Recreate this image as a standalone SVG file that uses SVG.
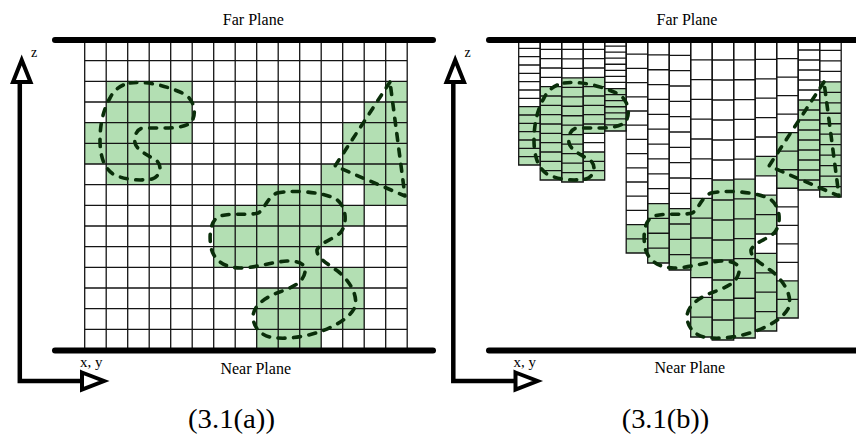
<svg xmlns="http://www.w3.org/2000/svg" xmlns:xlink="http://www.w3.org/1999/xlink" width="856" height="436" viewBox="0 0 856 436">
<style>
.cell{fill:#b3dfb3;stroke:none}
.grid{fill:none;stroke:#141414;stroke-width:1.3}
.blob{fill:none;stroke:#0a2e0a;stroke-width:3.6;stroke-dasharray:7 8.5;stroke-linecap:round;stroke-linejoin:round}
.plane{stroke:#000;stroke-width:6;stroke-linecap:round}
.axis{fill:none;stroke:#000;stroke-width:4.5;stroke-linejoin:miter}
.head{fill:#fff;stroke:#000;stroke-width:4;stroke-linejoin:miter}
.lbl{font-family:"Liberation Serif","Times New Roman",serif;font-size:16px;fill:#000}
.cap{font-family:"Liberation Serif","Times New Roman",serif;font-size:27px;fill:#000}
</style>
<defs>
<g id="blobs" class="blob">
<path d="M130,83 C145,81 165,85 182,93 C194,98 197,112 192,121 C188,127 175,128 163,128 L143,128 C136,129 134,137 135,143 C137,151 150,156 157,161 C162,166 161,176 152,179 C140,181 124,180 113,174 C104,168 100,156 100,140 C100,123 104,108 110,98 C114,90 120,85 130,83 Z"/>
<path d="M390,82 L335,166 L405,196 Z"/>
<path d="M277,193 C290,190 320,191 336,199 C346,206 348,222 341,232 C335,239 320,242 317,250 C316,258 330,265 340,273 C350,282 358,295 355,307 C350,318 335,326 322,331 C305,337 285,340 270,337 C258,334 253,325 253,316 C254,305 265,298 277,293 C290,288 303,284 305,272 C306,263 298,261 287,261 C272,262 255,268 240,268 C225,268 213,260 211,247 C209,236 210,222 218,217 C228,212 248,216 258,213 C265,210 266,198 277,193 Z"/>
</g>
</defs>
<rect width="856" height="436" fill="#fff"/>

<g id="panel-a">
<g id="a-cells">
<rect class="cell" x="106.2" y="81.33" width="86" height="20.67"/>
<rect class="cell" x="385.7" y="81.33" width="21.5" height="20.67"/>
<rect class="cell" x="106.2" y="102" width="86" height="20.67"/>
<rect class="cell" x="364.2" y="102" width="43" height="20.67"/>
<rect class="cell" x="84.7" y="122.67" width="107.5" height="20.67"/>
<rect class="cell" x="342.7" y="122.67" width="64.5" height="20.67"/>
<rect class="cell" x="84.7" y="143.33" width="86" height="20.67"/>
<rect class="cell" x="342.7" y="143.33" width="64.5" height="20.67"/>
<rect class="cell" x="106.2" y="164" width="64.5" height="20.67"/>
<rect class="cell" x="321.2" y="164" width="86" height="20.67"/>
<rect class="cell" x="256.7" y="184.67" width="86" height="20.67"/>
<rect class="cell" x="364.2" y="184.67" width="43" height="20.67"/>
<rect class="cell" x="213.7" y="205.33" width="150.5" height="20.67"/>
<rect class="cell" x="213.7" y="226" width="129" height="20.67"/>
<rect class="cell" x="213.7" y="246.67" width="107.5" height="20.67"/>
<rect class="cell" x="299.7" y="267.33" width="64.5" height="20.67"/>
<rect class="cell" x="256.7" y="288" width="107.5" height="20.67"/>
<rect class="cell" x="256.7" y="308.67" width="107.5" height="20.67"/>
<rect class="cell" x="256.7" y="329.33" width="64.5" height="20.67"/>
</g>
<path id="a-grid" class="grid" d="M84.7 40V350M106.2 40V350M127.7 40V350M149.2 40V350M170.7 40V350M192.2 40V350M213.7 40V350M235.2 40V350M256.7 40V350M278.2 40V350M299.7 40V350M321.2 40V350M342.7 40V350M364.2 40V350M385.7 40V350M407.2 40V350M84.7 60.67h322.5M84.7 81.33h322.5M84.7 102h322.5M84.7 122.67h322.5M84.7 143.33h322.5M84.7 164h322.5M84.7 184.67h322.5M84.7 205.33h322.5M84.7 226h322.5M84.7 246.67h322.5M84.7 267.33h322.5M84.7 288h322.5M84.7 308.67h322.5M84.7 329.33h322.5"/>
<use xlink:href="#blobs" href="#blobs"/>
<line class="plane" x1="55" y1="40" x2="433" y2="40"/>
<line class="plane" x1="55" y1="350.5" x2="433" y2="350.5"/>
<g id="a-axes">
<path class="axis" d="M19.8 82V381H82"/>
<path class="head" d="M21.7 60L13 82H30.5Z"/>
<path class="head" d="M82 372.5L104 381L82 389.5Z"/>
</g>
<text class="lbl" x="253.3" y="25" text-anchor="middle">Far Plane</text>
<text class="lbl" x="255.7" y="374" text-anchor="middle">Near Plane</text>
<text class="lbl" x="31" y="57" style="font-size:14px">z</text>
<text class="lbl" x="80" y="367" style="font-size:15px">x, y</text>
<text class="cap" x="188" y="428" textLength="87" lengthAdjust="spacingAndGlyphs">(3.1(a))</text>
</g>

<g id="panel-b">
<g id="b-cells">
<rect class="cell" x="518.7" y="106.67" width="21.5" height="58.33"/>
<rect class="cell" x="540.2" y="86.67" width="21.5" height="93.33"/>
<rect class="cell" x="561.7" y="77.87" width="21.5" height="104.13"/>
<rect class="cell" x="583.2" y="77.33" width="21.5" height="56"/>
<rect class="cell" x="583.2" y="152" width="21.5" height="28"/>
<rect class="cell" x="604.7" y="88.53" width="21.5" height="42.47"/>
<rect class="cell" x="626.2" y="224.6" width="21.5" height="28.4"/>
<rect class="cell" x="647.7" y="203.53" width="21.5" height="59.47"/>
<rect class="cell" x="669.2" y="208.67" width="21.5" height="61.33"/>
<rect class="cell" x="690.7" y="198.4" width="21.5" height="79.2"/>
<rect class="cell" x="690.7" y="297.4" width="21.5" height="39.6"/>
<rect class="cell" x="712.2" y="180" width="21.5" height="160"/>
<rect class="cell" x="733.7" y="179.07" width="21.5" height="158.93"/>
<rect class="cell" x="755.2" y="156.4" width="21.5" height="19.4"/>
<rect class="cell" x="755.2" y="195.2" width="21.5" height="38.8"/>
<rect class="cell" x="755.2" y="253.4" width="21.5" height="77.6"/>
<rect class="cell" x="776.7" y="132.67" width="21.5" height="55.6"/>
<rect class="cell" x="776.7" y="280.93" width="21.5" height="37.07"/>
<rect class="cell" x="798.2" y="100" width="21.5" height="90"/>
<rect class="cell" x="819.7" y="81.87" width="21.5" height="115.13"/>
</g>
<g id="b-grid" class="grid">
<path d="M518.7 40V165H540.2V40M518.7 48.33h21.5M518.7 56.67h21.5M518.7 65h21.5M518.7 73.33h21.5M518.7 81.67h21.5M518.7 90h21.5M518.7 98.33h21.5M518.7 106.67h21.5M518.7 115h21.5M518.7 123.33h21.5M518.7 131.67h21.5M518.7 140h21.5M518.7 148.33h21.5M518.7 156.67h21.5"/>
<path d="M540.2 40V180H561.7V40M540.2 49.33h21.5M540.2 58.67h21.5M540.2 68h21.5M540.2 77.33h21.5M540.2 86.67h21.5M540.2 96h21.5M540.2 105.33h21.5M540.2 114.67h21.5M540.2 124h21.5M540.2 133.33h21.5M540.2 142.67h21.5M540.2 152h21.5M540.2 161.33h21.5M540.2 170.67h21.5"/>
<path d="M561.7 40V182H583.2V40M561.7 49.47h21.5M561.7 58.93h21.5M561.7 68.4h21.5M561.7 77.87h21.5M561.7 87.33h21.5M561.7 96.8h21.5M561.7 106.27h21.5M561.7 115.73h21.5M561.7 125.2h21.5M561.7 134.67h21.5M561.7 144.13h21.5M561.7 153.6h21.5M561.7 163.07h21.5M561.7 172.53h21.5"/>
<path d="M583.2 40V180H604.7V40M583.2 49.33h21.5M583.2 58.67h21.5M583.2 68h21.5M583.2 77.33h21.5M583.2 86.67h21.5M583.2 96h21.5M583.2 105.33h21.5M583.2 114.67h21.5M583.2 124h21.5M583.2 133.33h21.5M583.2 142.67h21.5M583.2 152h21.5M583.2 161.33h21.5M583.2 170.67h21.5"/>
<path d="M604.7 40V131H626.2V40M604.7 46.07h21.5M604.7 52.13h21.5M604.7 58.2h21.5M604.7 64.27h21.5M604.7 70.33h21.5M604.7 76.4h21.5M604.7 82.47h21.5M604.7 88.53h21.5M604.7 94.6h21.5M604.7 100.67h21.5M604.7 106.73h21.5M604.7 112.8h21.5M604.7 118.87h21.5M604.7 124.93h21.5"/>
<path d="M626.2 40V253H647.7V40M626.2 54.2h21.5M626.2 68.4h21.5M626.2 82.6h21.5M626.2 96.8h21.5M626.2 111h21.5M626.2 125.2h21.5M626.2 139.4h21.5M626.2 153.6h21.5M626.2 167.8h21.5M626.2 182h21.5M626.2 196.2h21.5M626.2 210.4h21.5M626.2 224.6h21.5M626.2 238.8h21.5"/>
<path d="M647.7 40V263H669.2V40M647.7 54.87h21.5M647.7 69.73h21.5M647.7 84.6h21.5M647.7 99.47h21.5M647.7 114.33h21.5M647.7 129.2h21.5M647.7 144.07h21.5M647.7 158.93h21.5M647.7 173.8h21.5M647.7 188.67h21.5M647.7 203.53h21.5M647.7 218.4h21.5M647.7 233.27h21.5M647.7 248.13h21.5"/>
<path d="M669.2 40V270H690.7V40M669.2 55.33h21.5M669.2 70.67h21.5M669.2 86h21.5M669.2 101.33h21.5M669.2 116.67h21.5M669.2 132h21.5M669.2 147.33h21.5M669.2 162.67h21.5M669.2 178h21.5M669.2 193.33h21.5M669.2 208.67h21.5M669.2 224h21.5M669.2 239.33h21.5M669.2 254.67h21.5"/>
<path d="M690.7 40V337H712.2V40M690.7 59.8h21.5M690.7 79.6h21.5M690.7 99.4h21.5M690.7 119.2h21.5M690.7 139h21.5M690.7 158.8h21.5M690.7 178.6h21.5M690.7 198.4h21.5M690.7 218.2h21.5M690.7 238h21.5M690.7 257.8h21.5M690.7 277.6h21.5M690.7 297.4h21.5M690.7 317.2h21.5"/>
<path d="M712.2 40V340H733.7V40M712.2 60h21.5M712.2 80h21.5M712.2 100h21.5M712.2 120h21.5M712.2 140h21.5M712.2 160h21.5M712.2 180h21.5M712.2 200h21.5M712.2 220h21.5M712.2 240h21.5M712.2 260h21.5M712.2 280h21.5M712.2 300h21.5M712.2 320h21.5"/>
<path d="M733.7 40V338H755.2V40M733.7 59.87h21.5M733.7 79.73h21.5M733.7 99.6h21.5M733.7 119.47h21.5M733.7 139.33h21.5M733.7 159.2h21.5M733.7 179.07h21.5M733.7 198.93h21.5M733.7 218.8h21.5M733.7 238.67h21.5M733.7 258.53h21.5M733.7 278.4h21.5M733.7 298.27h21.5M733.7 318.13h21.5"/>
<path d="M755.2 40V331H776.7V40M755.2 59.4h21.5M755.2 78.8h21.5M755.2 98.2h21.5M755.2 117.6h21.5M755.2 137h21.5M755.2 156.4h21.5M755.2 175.8h21.5M755.2 195.2h21.5M755.2 214.6h21.5M755.2 234h21.5M755.2 253.4h21.5M755.2 272.8h21.5M755.2 292.2h21.5M755.2 311.6h21.5"/>
<path d="M776.7 40V318H798.2V40M776.7 58.53h21.5M776.7 77.07h21.5M776.7 95.6h21.5M776.7 114.13h21.5M776.7 132.67h21.5M776.7 151.2h21.5M776.7 169.73h21.5M776.7 188.27h21.5M776.7 206.8h21.5M776.7 225.33h21.5M776.7 243.87h21.5M776.7 262.4h21.5M776.7 280.93h21.5M776.7 299.47h21.5"/>
<path d="M798.2 40V190H819.7V40M798.2 50h21.5M798.2 60h21.5M798.2 70h21.5M798.2 80h21.5M798.2 90h21.5M798.2 100h21.5M798.2 110h21.5M798.2 120h21.5M798.2 130h21.5M798.2 140h21.5M798.2 150h21.5M798.2 160h21.5M798.2 170h21.5M798.2 180h21.5"/>
<path d="M819.7 40V197H841.2V40M819.7 50.47h21.5M819.7 60.93h21.5M819.7 71.4h21.5M819.7 81.87h21.5M819.7 92.33h21.5M819.7 102.8h21.5M819.7 113.27h21.5M819.7 123.73h21.5M819.7 134.2h21.5M819.7 144.67h21.5M819.7 155.13h21.5M819.7 165.6h21.5M819.7 176.07h21.5M819.7 186.53h21.5"/>
</g>
<use xlink:href="#blobs" href="#blobs" x="434"/>
<line class="plane" x1="489" y1="40" x2="870" y2="40"/>
<line class="plane" x1="489" y1="350.5" x2="870" y2="350.5"/>
<g id="b-axes" transform="translate(433.5,0)">
<path class="axis" d="M19.8 82V381H82"/>
<path class="head" d="M21.7 60L13 82H30.5Z"/>
<path class="head" d="M82 372.5L104 381L82 389.5Z"/>
</g>
<text class="lbl" x="687" y="25" text-anchor="middle">Far Plane</text>
<text class="lbl" x="689.8" y="373" text-anchor="middle">Near Plane</text>
<text class="lbl" x="464.5" y="57" style="font-size:14px">z</text>
<text class="lbl" x="513.5" y="367" style="font-size:15px">x, y</text>
<text class="cap" x="621.7" y="428" textLength="87.6" lengthAdjust="spacingAndGlyphs">(3.1(b))</text>
</g>
</svg>
